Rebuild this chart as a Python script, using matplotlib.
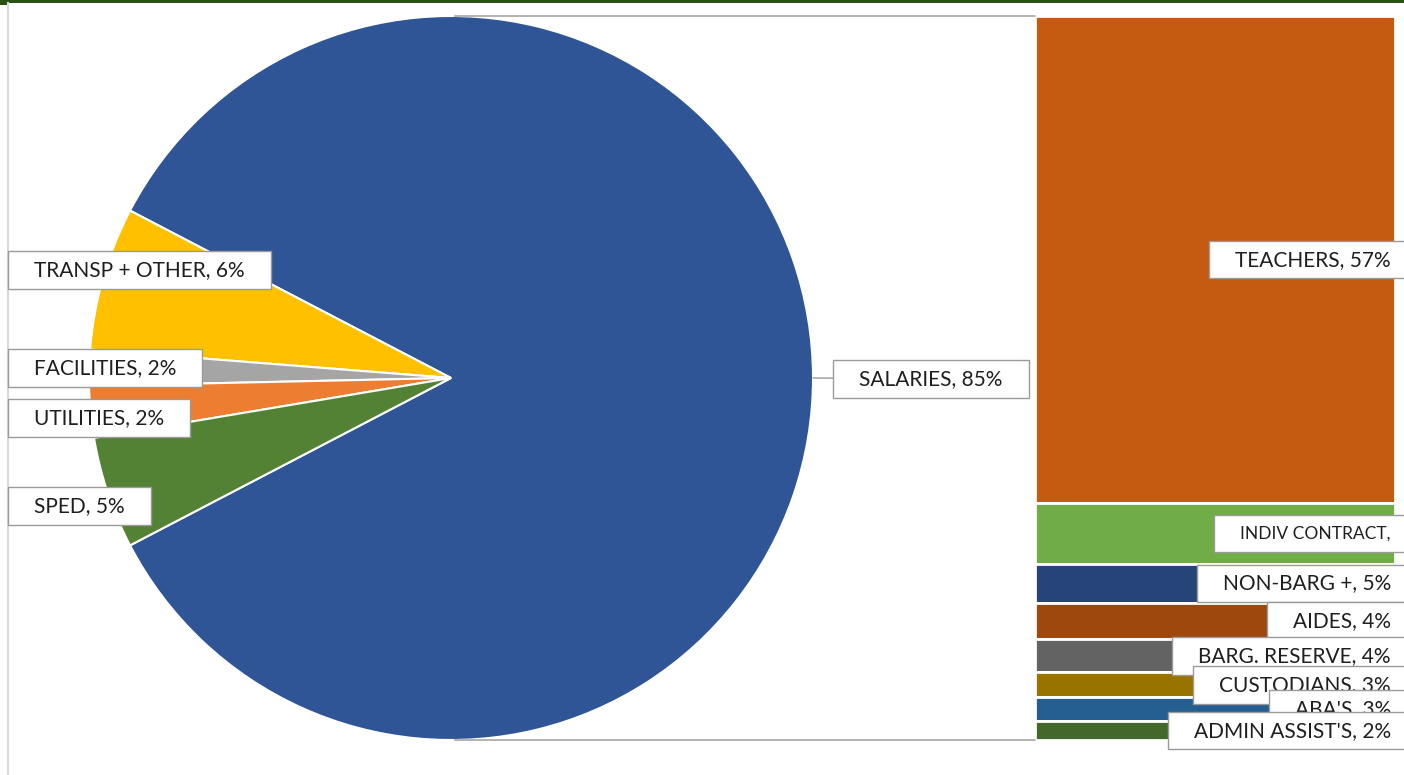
import matplotlib
matplotlib.use('Agg')
import matplotlib.pyplot as plt
from matplotlib.patches import ConnectionPatch, Rectangle
from matplotlib.lines import Line2D
from matplotlib.path import Path

## pie part (percent of budget), salaries is split out in the bar
pie_names = ['SALARIES', 'TRANSP + OTHER', 'FACILITIES', 'UTILITIES', 'SPED']
pie_colors = ['#2F5597', '#FFC000', '#A5A5A5', '#ED7D31', '#548235']

## bar part (breakdown of salaries)
bar_names = ['TEACHERS', 'INDIV CONTRACT', 'NON-BARG +', 'AIDES', 'BARG. RESERVE',
             'CUSTODIANS', "ABA'S", "ADMIN ASSIST'S"]
bar_values = [57.0, 7.1, 4.6, 4.2, 3.9, 2.9, 2.8, 2.2]
bar_colors = ['#C55A11', '#70AD47', '#264478', '#9E480E', '#636363',
              '#997300', '#255E91', '#43682B']

other_values = [6.4, 1.6, 2.3, 5.0]
pie_values = [sum(bar_values)] + other_values

W, H = 1404, 775
txt_color = '#1f1f1f'
box_edge = '#9a9a9a'
fsize = 15
plt.rcParams['font.family'] = ['Lato', 'DejaVu Sans']

def label_box(x0, y0, width, height, mutation_size, px_f=1.25, py_f=0.42):
    # excel-ish label box: wide on the sides, tight on top/bottom
    px = px_f * mutation_size
    py = py_f * mutation_size
    verts = [(x0 - px, y0 - py), (x0 + width + px, y0 - py),
             (x0 + width + px, y0 + height + py), (x0 - px, y0 + height + py),
             (x0 - px, y0 - py)]
    return Path(verts, closed=True)

def wrapped_box(x0, y0, width, height, mutation_size):
    # the wrapped label keeps the full box height
    return label_box(x0, y0, width, height, mutation_size, 1.5, 0.62)

bbox_kw = dict(boxstyle=label_box, facecolor='white', edgecolor=box_edge, linewidth=1.0)

fig = plt.figure(figsize=(W/100, H/100), dpi=100)

# chart frame bits
fig.add_artist(Rectangle((0, 1 - 3/H), 1, 3/H, transform=fig.transFigure, color='#2B5214', lw=0))
fig.add_artist(Rectangle((0, 1 - 5/H), 7/W, 5/H, transform=fig.transFigure, color='#2B5214', lw=0))
fig.add_artist(Line2D([7.5/W, 7.5/W], [0, 1 - 3/H], transform=fig.transFigure, color='#d9d9d9', lw=1.5))

# pie axes: centre (451,378), radius 362 px
cx, cy, r = 451, 378, 362
ax_pie = fig.add_axes([(cx - r)/W, (H - cy - r)/H, 2*r/W, 2*r/H])
start = -0.5 * pie_values[0] / sum(pie_values) * 360
ax_pie.pie(pie_values, colors=pie_colors, startangle=start, counterclock=True,
           wedgeprops=dict(edgecolor='white', linewidth=1.5))
ax_pie.set_xlim(-1, 1)
ax_pie.set_ylim(-1, 1)
ax_pie.axis('off')

# bar axes
bx0, bx1, by0, by1 = 1035, 1395, 16, 740
ax_bar = fig.add_axes([bx0/W, (H - by1)/H, (bx1 - bx0)/W, (by1 - by0)/H])
total = sum(bar_values)
bottom = 0.0
centers = []
for v, c in zip(bar_values, bar_colors):
    ax_bar.bar(0, v, bottom=bottom, width=1.0, color=c, edgecolor='white', linewidth=2.0)
    centers.append(bottom + v/2)
    bottom += v
ax_bar.set_xlim(-0.5, 0.5)
ax_bar.set_ylim(total, 0)
ax_bar.axis('off')

# connector lines pie -> bar
for ya, yb in [(1, 0), (-1, total)]:
    con = ConnectionPatch(xyA=(0.01, ya), coordsA=ax_pie.transData,
                          xyB=(-0.5, yb), coordsB=ax_bar.transData,
                          color='#a6a6a6', lw=1.2)
    fig.add_artist(con)

# bar labels
for i, (name, v, yc) in enumerate(zip(bar_names, bar_values, centers)):
    bb = dict(bbox_kw)
    if name == 'INDIV CONTRACT':
        txt, fs = name + ',', 12.5
        bb['boxstyle'] = wrapped_box
    else:
        txt, fs = '%s, %d%%' % (name, round(v)), fsize
    ax_bar.annotate(txt, xy=(0.5, yc), xycoords='data', xytext=(-3, 0),
                    textcoords='offset points', ha='right', va='center',
                    fontsize=fs, color=txt_color, bbox=bb,
                    annotation_clip=False, zorder=10 + i)

# pie labels on the left
left_label_y = [270, 368, 418, 506]
for name, v, yy in zip(pie_names[1:], other_values, left_label_y):
    fig.text(34/W, 1 - yy/H, '%s, %d%%' % (name, round(v)), ha='left', va='center',
             fontsize=fsize, color=txt_color, bbox=bbox_kw, zorder=10)

# salaries callout
ax_pie.annotate('%s, %d%%' % (pie_names[0], round(pie_values[0])), xy=(1.0, 0.0),
                xycoords='data', xytext=(931, H - 379), textcoords='figure pixels',
                ha='center', va='center', fontsize=fsize, color=txt_color, bbox=bbox_kw,
                arrowprops=dict(arrowstyle='-', color=box_edge, lw=1.0, shrinkA=0, shrinkB=0),
                annotation_clip=False, zorder=10)

plt.savefig('out.png', dpi=100)
plt.close()
